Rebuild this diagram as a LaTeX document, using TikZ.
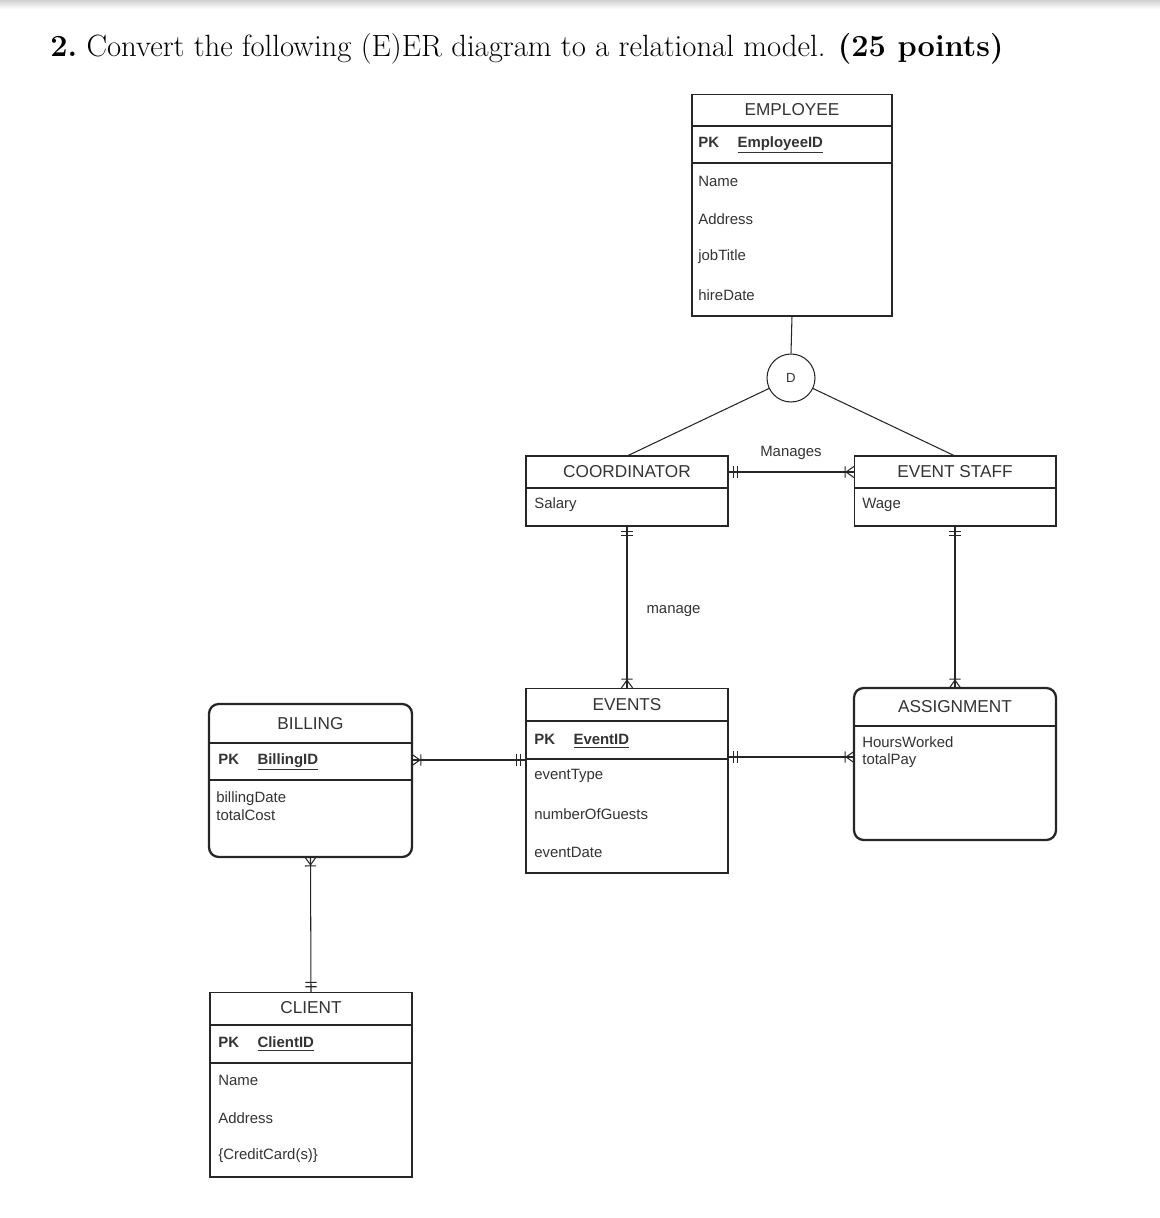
\documentclass[tikz,border=0pt]{standalone}
\usepackage{fontspec}
\setsansfont{Liberation Sans}
\usepackage{tikz}
\usetikzlibrary{positioning,calc,decorations.markings}

\newcommand{\pkrow}[1]{\textbf{PK}\hspace{10.5pt}\underline{\textbf{#1}}}

\begin{document}
\begin{tikzpicture}[x=0.02cm, y=-0.02cm,
  font=\sffamily\fontsize{8.5}{10}\selectfont,
  ent/.style={draw=black!85, line width=0.6pt, inner sep=0pt, outer sep=0pt},
  weakent/.style={ent, line width=1.3pt, rounded corners=5.5pt},
  head/.style={inner sep=0pt, text=black!80, font=\sffamily\fontsize{9.8}{11}\selectfont},
  attr/.style={anchor=west, inner sep=0pt, text=black!80, align=left},
  divider/.style={draw=black!85, line width=0.6pt},
  rel/.style={draw=black!85, line width=0.6pt},
  lbl/.style={inner sep=0pt, text=black!80},
  tick/.style={draw=black!85, line width=0.6pt},
  onefrom/.style={postaction={decorate,decoration={markings,
      mark=at position 3pt with {\draw[tick] (0,-3.2pt) -- (0,3.2pt);},
      mark=at position 5.5pt with {\draw[tick] (0,-3.2pt) -- (0,3.2pt);}}}},
  oneto/.style={postaction={decorate,decoration={markings,
      mark=at position -5.5pt with {\draw[tick] (0,-3.2pt) -- (0,3.2pt);},
      mark=at position -3pt with {\draw[tick] (0,-3.2pt) -- (0,3.2pt);}}}},
  manyfrom/.style={postaction={decorate,decoration={markings,
      mark=at position 4.5pt with {\draw[tick] (-4.5pt,3.2pt) -- (0,0) -- (-4.5pt,-3.2pt) (0.6pt,-3.2pt) -- (0.6pt,3.2pt);}}}},
  manyto/.style={postaction={decorate,decoration={markings,
      mark=at position -4.5pt with {\draw[tick] (4.5pt,3.2pt) -- (0,0) -- (4.5pt,-3.2pt) (-0.6pt,-3.2pt) -- (-0.6pt,3.2pt);}}}},
]
  \useasboundingbox (0,0) rectangle (1160,1218);
  \shade[top color=black!18, bottom color=white] (0,0) rectangle (1160,9);

  \node[anchor=west, inner sep=0pt, font=\rmfamily\fontsize{17.5}{20}\selectfont] (title) at (50,49)
    {\textbf{2.}\ Convert the following (E)ER diagram to a relational model. \textbf{(25 points)}};

  % EMPLOYEE
  \node[ent, minimum width=4cm, minimum height=4.44cm] (employee) at (792,205) {};
  \draw[divider] (employee.west |- 0,126) -- (employee.east |- 0,126);
  \draw[divider] (employee.west |- 0,163) -- (employee.east |- 0,163);
  \node[head] (employee-t) at (792,110) {EMPLOYEE};
  \node[attr] (employee-pk) at (698,145) {\pkrow{EmployeeID}};
  \foreach \t/\y [count=\i] in {Name/181,Address/219,jobTitle/257,hireDate/295}
    \node[attr] (employee-a\i) at (698,\y) {\t};

  % disjoint circle
  \node[circle, draw=black!85, line width=0.6pt, minimum size=0.96cm, inner sep=0pt,
        font=\sffamily\fontsize{7.5}{9}\selectfont, text=black!80] (dnode) at (791,378) {D};

  % COORDINATOR / EVENT STAFF
  \node[ent, minimum width=4.04cm, minimum height=1.4cm] (coord) at (627,491) {};
  \draw[divider] (coord.west |- 0,488) -- (coord.east |- 0,488);
  \node[head] (coord-t) at (627,472) {COORDINATOR};
  \node[attr] (coord-a1) at (534,505) {Salary};

  \node[ent, minimum width=4.04cm, minimum height=1.4cm] (staff) at (955,491) {};
  \draw[divider] (staff.west |- 0,488) -- (staff.east |- 0,488);
  \node[head] (staff-t) at (955,472) {EVENT STAFF};
  \node[attr] (staff-a1) at (862,505) {Wage};

  % EVENTS
  \node[ent, minimum width=4.04cm, minimum height=3.7cm] (events) at (627,780.5) {};
  \draw[divider] (events.west |- 0,721) -- (events.east |- 0,721);
  \draw[divider] (events.west |- 0,759) -- (events.east |- 0,759);
  \node[head] (events-t) at (627,705) {EVENTS};
  \node[attr] (events-pk) at (534,741) {\pkrow{EventID}};
  \foreach \t/\y [count=\i] in {eventType/776,numberOfGuests/814,eventDate/852}
    \node[attr] (events-a\i) at (534,\y) {\t};

  % ASSIGNMENT
  \node[weakent, minimum width=4.04cm, minimum height=3.04cm] (assign) at (955,764) {};
  \draw[divider] (assign.west |- 0,726) -- (assign.east |- 0,726);
  \node[head] (assign-t) at (955,707) {ASSIGNMENT};
  \node[attr] (assign-a1) at (862,752) {HoursWorked\\totalPay};

  % BILLING
  \node[weakent, minimum width=4.06cm, minimum height=3.06cm] (billing) at (310.5,780.5) {};
  \draw[divider] (billing.west |- 0,743) -- (billing.east |- 0,743);
  \draw[divider] (billing.west |- 0,780) -- (billing.east |- 0,780);
  \node[head] (billing-t) at (310.5,724) {BILLING};
  \node[attr] (billing-pk) at (218,762) {\pkrow{BillingID}};
  \node[attr] (billing-a1) at (216,806) {billingDate\\totalCost};

  % CLIENT
  \node[ent, minimum width=4.04cm, minimum height=3.7cm] (client) at (311,1084.5) {};
  \draw[divider] (client.west |- 0,1025) -- (client.east |- 0,1025);
  \draw[divider] (client.west |- 0,1063) -- (client.east |- 0,1063);
  \node[head] (client-t) at (311,1008) {CLIENT};
  \node[attr] (client-pk) at (218,1044) {\pkrow{ClientID}};
  \foreach \t/\y [count=\i] in {Name/1080,Address/1118,{\{CreditCard(s)\}}/1156}
    \node[attr] (client-a\i) at (218,\y) {\t};

  % specialization
  \draw[rel] (employee.south) -- (dnode.north);
  \draw[rel] (dnode) -- (coord.north);
  \draw[rel] (dnode) -- (staff.north);

  % relationships
  \draw[rel, onefrom, manyto] (coord.east |- 0,472) -- node[lbl, yshift=10.8pt] (manages) {Manages} (staff.west |- 0,472);
  \draw[rel, onefrom, manyto] (coord.south) -- node[lbl, pos=0.525, anchor=west, xshift=0.38cm] (manage) {manage} (events.north);
  \draw[rel, onefrom, manyto] (staff.south) -- (assign.north);
  \draw[rel, onefrom, manyto] (events.east |- 0,757) -- (assign.west |- 0,757);
  \draw[rel, manyfrom, oneto] (billing.east |- 0,760) -- (events.west |- 0,760);
  \draw[rel, manyfrom, oneto] (billing.south) -- (client.north);
\end{tikzpicture}
\end{document}
